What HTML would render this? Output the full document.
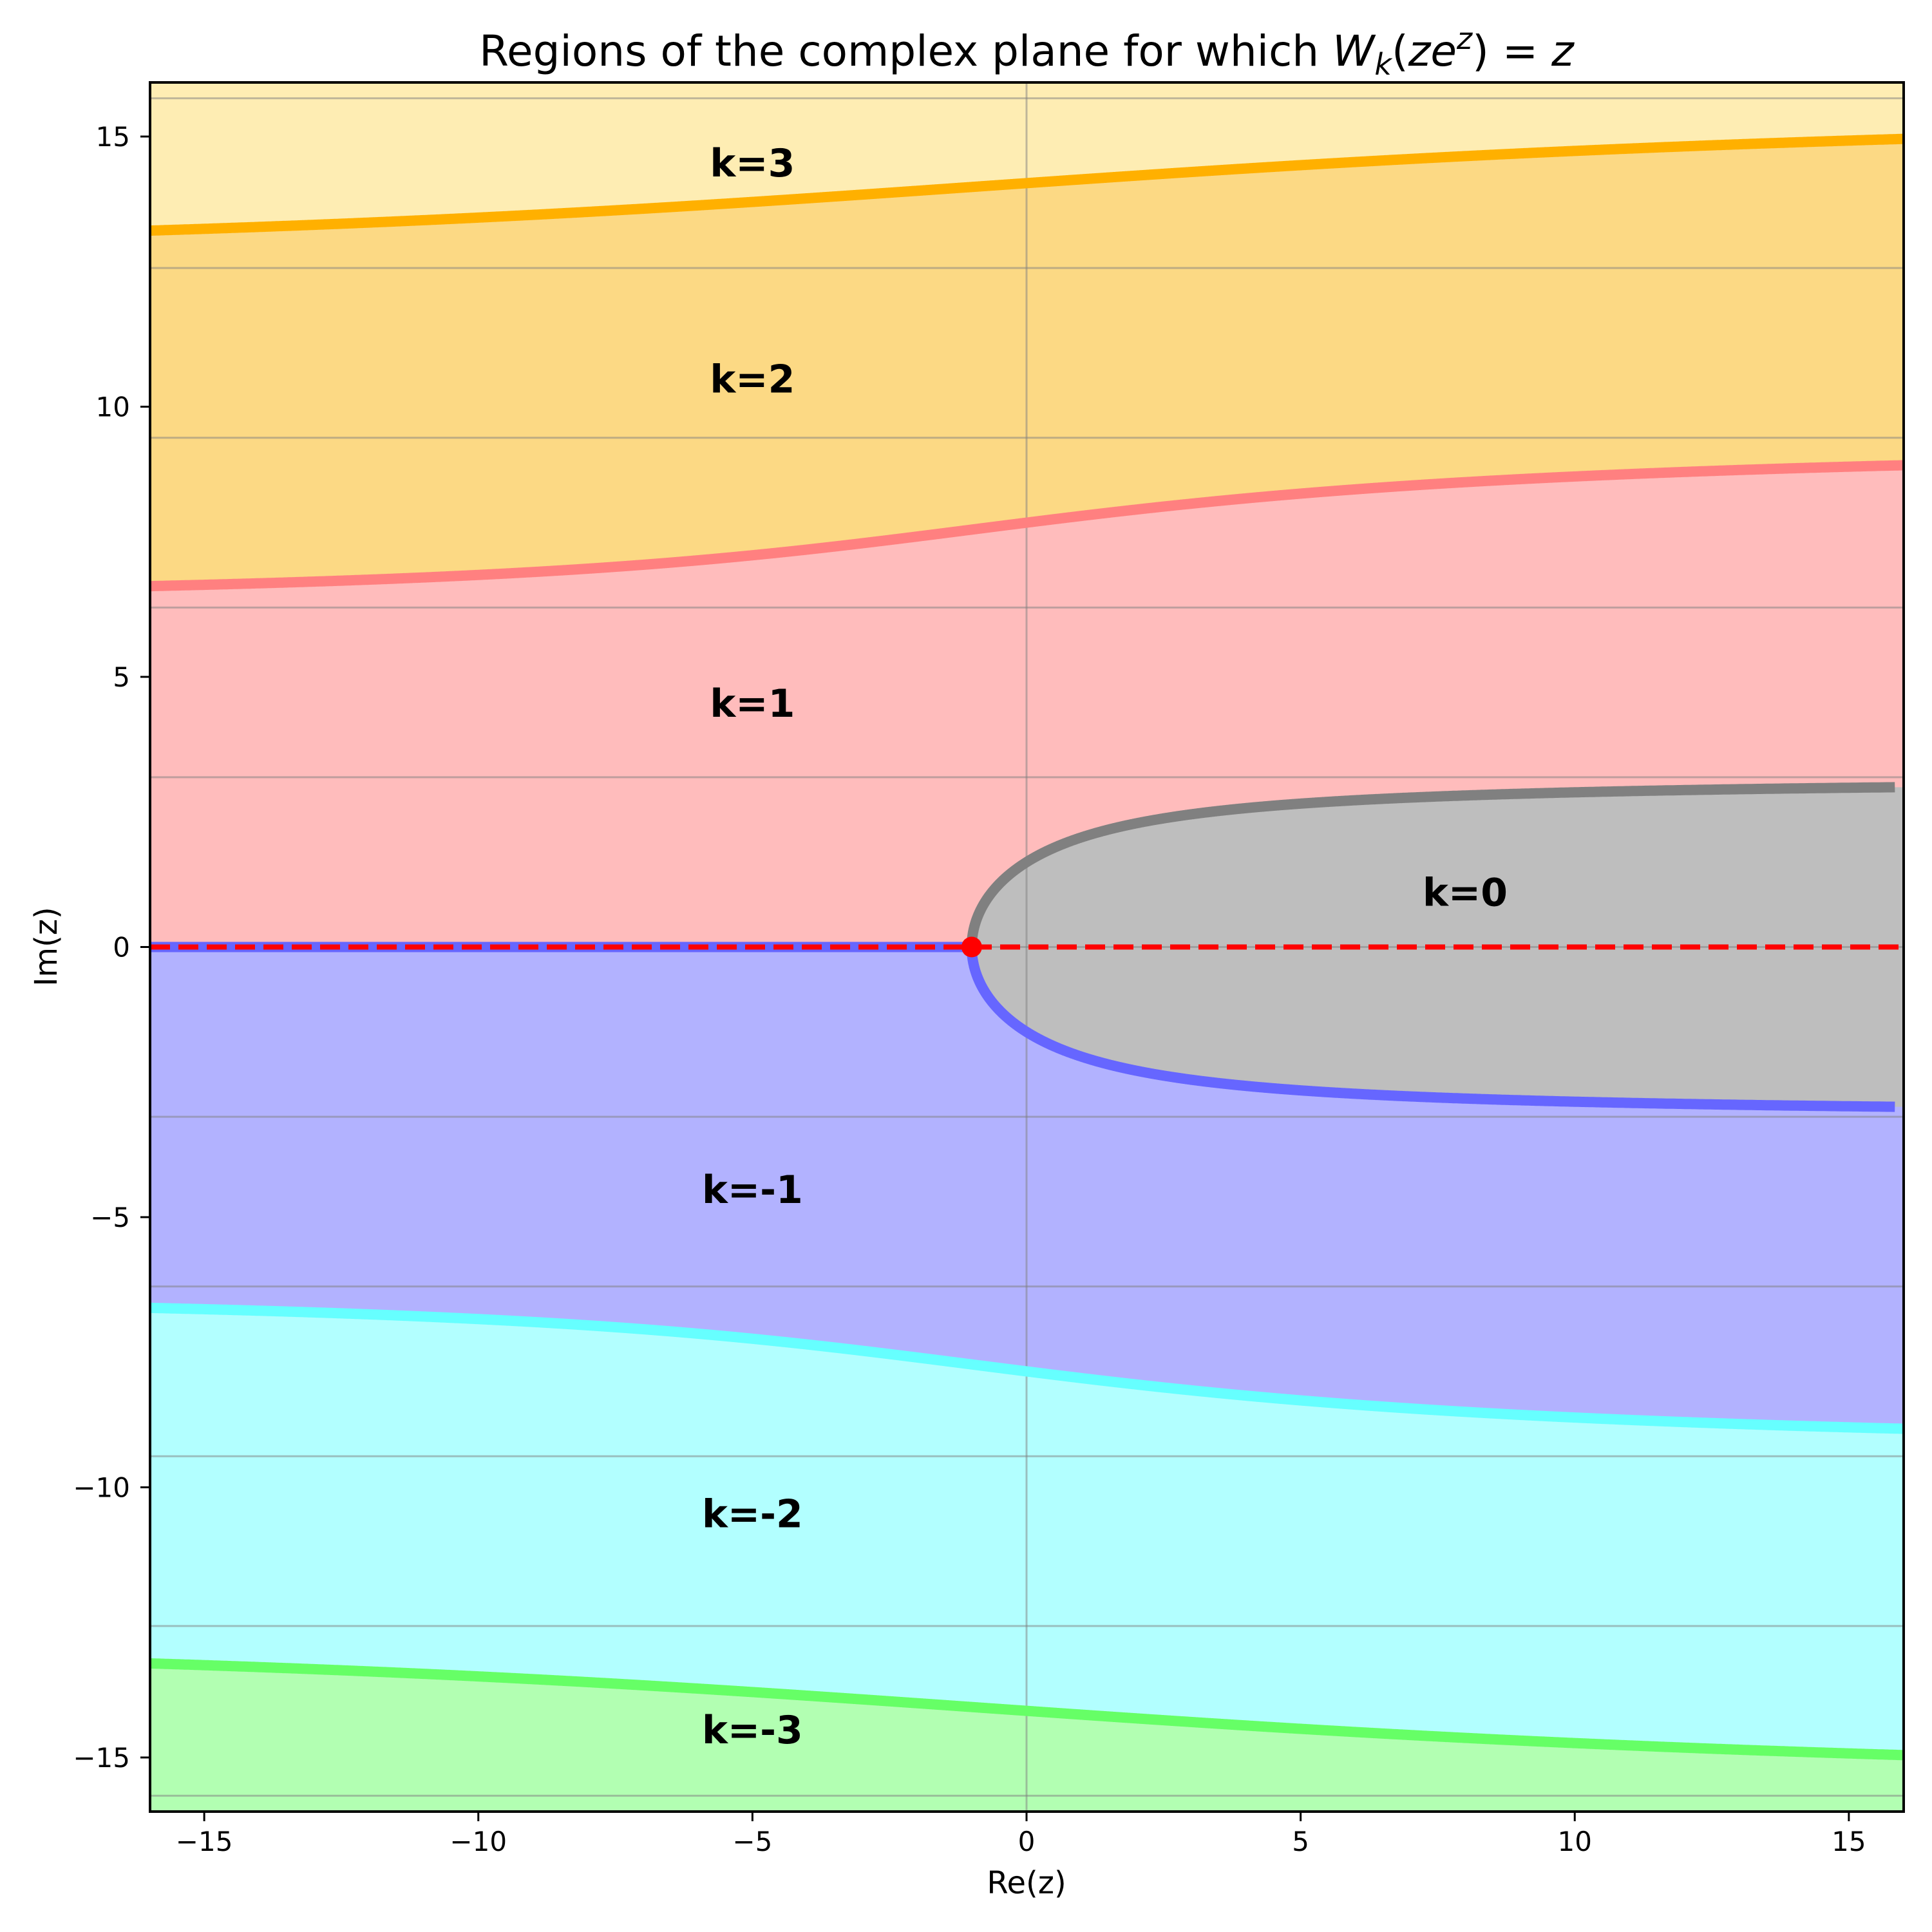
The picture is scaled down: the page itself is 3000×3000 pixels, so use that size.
<!DOCTYPE html>
<html><head><meta charset="utf-8"><style>
html,body{margin:0;padding:0;background:#fff;width:3000px;height:3000px;overflow:hidden;}
svg{display:block;}
text{font-family:"DejaVu Sans","Liberation Sans",sans-serif;}
</style></head><body>
<svg id="s" width="3000" height="3000" viewBox="0 0 3000 3000" xmlns="http://www.w3.org/2000/svg">
<defs><clipPath id="c"><rect x="233" y="128" width="2723" height="2685"/></clipPath></defs>
<rect width="3000" height="3000" fill="#fff"/>
<g clip-path="url(#c)" id="plot"></g>
<rect x="233" y="128" width="2723" height="2685" fill="none" stroke="#000" stroke-width="4"/>
<g id="ticks" stroke="#000" stroke-width="3"></g>
<g id="labels" font-size="42" fill="#000"></g>
<text x="1594" y="2940" font-size="48" text-anchor="middle">Re(z)</text>
<text transform="translate(88,1470) rotate(-90)" font-size="48" text-anchor="middle">Im(z)</text>
<text x="1594" y="102" font-size="66" text-anchor="middle">Regions of the complex plane for which <tspan font-style="italic">W</tspan><tspan font-style="italic" font-size="46" dy="14">k</tspan><tspan dy="-14">(</tspan><tspan font-style="italic">ze</tspan><tspan font-style="italic" font-size="46" dy="-26">z</tspan><tspan dy="26">) = </tspan><tspan font-style="italic">z</tspan></text>
</svg>
<script>
var NS="http://www.w3.org/2000/svg";
function X(x){return 1594+85.125*x;}
function Y(y){return 1470.5-83.9*y;}
var P=Math.PI;
function curve(a,b){var pts=[];var n=4000;for(var i=1;i<n;i++){var e=a+(b-a)*i/n;var x=-e/Math.tan(e);if(x>-17&&x<17)pts.push([X(x),Y(e)]);}return pts;}
function curve0(a,b){var pts=[];var n=4000;for(var i=0;i<=n;i++){var e=a+(b-a)*i/n;var x=Math.abs(e)<1e-9?-1:-e/Math.tan(e);if(x>-17&&x<15.85)pts.push([X(x),Y(e)]);}return pts;}
function d(pts){return pts.map(function(p,i){return (i?"L":"M")+p[0].toFixed(1)+" "+p[1].toFixed(1);}).join("");}
var g=document.getElementById("plot");
function el(t,a){var e=document.createElementNS(NS,t);for(var k in a)e.setAttribute(k,a[k]);g.appendChild(e);return e;}
var red=curve(2*P,3*P),ora=curve(4*P,5*P),cya=curve(-3*P,-2*P),grn=curve(-5*P,-4*P);
cya.sort(function(a,b){return a[0]-b[0];});grn.sort(function(a,b){return a[0]-b[0];});
red.sort(function(a,b){return a[0]-b[0];});ora.sort(function(a,b){return a[0]-b[0];});
var up=curve0(0,P),dn=curve0(-P,0);
el("rect",{x:0,y:0,width:3000,height:Y(0),fill:"#ffbcbc"});
el("rect",{x:0,y:Y(0),width:3000,height:3000,fill:"#b2b2ff"});
el("path",{d:d(red)+"L3100 "+red[red.length-1][1]+"L3100 0L0 0L0 "+red[0][1]+"Z",fill:"#fcd984"});
el("path",{d:d(ora)+"L3100 "+ora[ora.length-1][1]+"L3100 0L0 0L0 "+ora[0][1]+"Z",fill:"#feedb3"});
el("path",{d:d(cya)+"L3100 "+cya[cya.length-1][1]+"L3100 3000L0 3000L0 "+cya[0][1]+"Z",fill:"#b2ffff"});
el("path",{d:d(grn)+"L3100 "+grn[grn.length-1][1]+"L3100 3000L0 3000L0 "+grn[0][1]+"Z",fill:"#b2ffb2"});
var k0=dn.concat(up);
el("path",{d:d(k0)+"L3100 "+k0[k0.length-1][1]+"L3100 "+k0[0][1]+"Z",fill:"#bebebe"});
for(var m=-5;m<=5;m++){el("line",{x1:0,x2:3000,y1:Y(m*P),y2:Y(m*P),stroke:"#808080","stroke-opacity":0.5,"stroke-width":3});}
el("line",{x1:X(0),x2:X(0),y1:0,y2:3000,stroke:"#808080","stroke-opacity":0.5,"stroke-width":3});
function line(p,c){el("path",{d:d(p),fill:"none",stroke:c,"stroke-width":16,"stroke-linejoin":"round"});}
line(up,"#808080");line(dn,"#6666ff");
el("line",{x1:0,x2:X(-1),y1:Y(0),y2:Y(0),stroke:"#6666ff","stroke-width":16});
line(red,"#ff8080");line(ora,"#ffb000");line(cya,"#66ffff");line(grn,"#66ff66");
el("line",{x1:233,x2:3000,y1:Y(0),y2:Y(0),stroke:"#ff0000","stroke-width":8,"stroke-dasharray":"31 13"});
el("circle",{cx:X(-1),cy:Y(0),r:16,fill:"#ff0000"});
var labs=[["k=3",-5,14.5],["k=2",-5,10.5],["k=1",-5,4.5],["k=0",8,1],["k=-1",-5,-4.5],["k=-2",-5,-10.5],["k=-3",-5,-14.5]];
labs.forEach(function(l){var t=el("text",{x:X(l[1]),y:Y(l[2])+20,"font-size":60,"font-weight":"bold","text-anchor":"middle",fill:"#000"});t.textContent=l[0];});
var tk=document.getElementById("ticks"),lb=document.getElementById("labels");
[-15,-10,-5,0,5,10,15].forEach(function(v){
 var a=document.createElementNS(NS,"line");a.setAttribute("x1",X(v));a.setAttribute("x2",X(v));a.setAttribute("y1",2813);a.setAttribute("y2",2828);tk.appendChild(a);
 var b=document.createElementNS(NS,"line");b.setAttribute("x1",218);b.setAttribute("x2",233);b.setAttribute("y1",Y(v));b.setAttribute("y2",Y(v));tk.appendChild(b);
 var s=v<0?"\u2212"+(-v):""+v;
 var t=document.createElementNS(NS,"text");t.setAttribute("x",X(v));t.setAttribute("y",2874);t.setAttribute("text-anchor","middle");t.textContent=s;lb.appendChild(t);
 var u=document.createElementNS(NS,"text");u.setAttribute("x",202);u.setAttribute("y",Y(v)+15);u.setAttribute("text-anchor","end");u.textContent=s;lb.appendChild(u);
});
</script>
</body></html>
